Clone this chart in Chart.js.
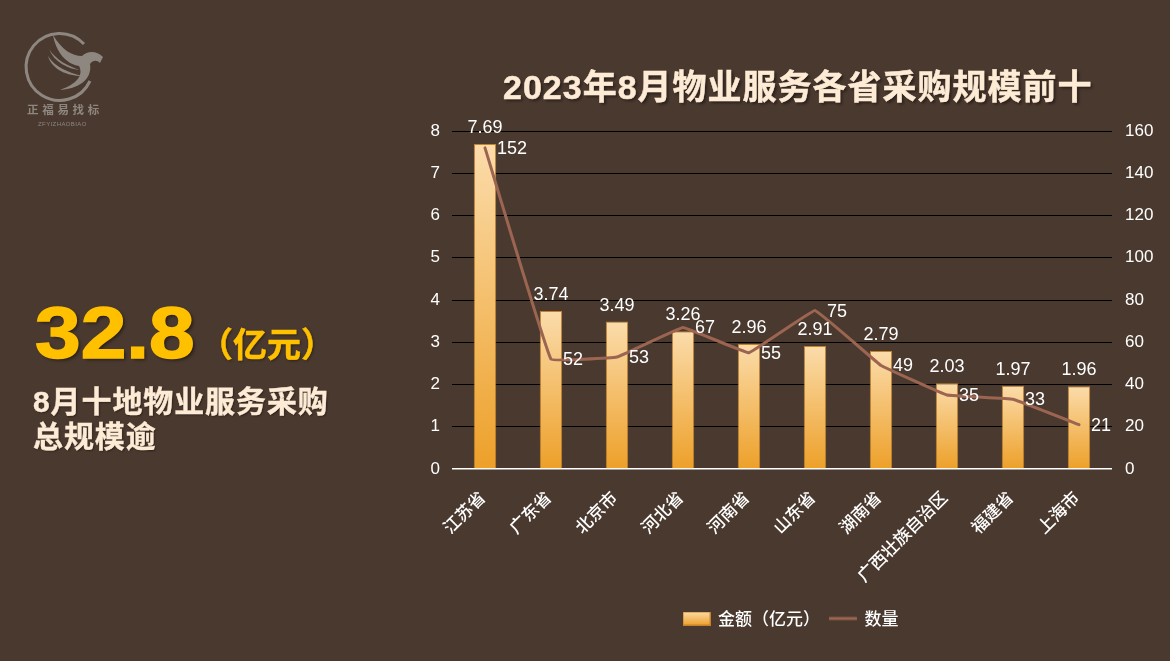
<!DOCTYPE html>
<html lang="zh">
<head>
<meta charset="utf-8">
<title>2023年8月物业服务各省采购规模前十</title>
<script src="https://cdn.jsdelivr.net/npm/chart.js@4"></script>
<style>
  html, body { margin: 0; padding: 0; background: #4a392f; }
  #wrap { position: relative; width: 1170px; height: 661px; overflow: hidden; font-family: "Liberation Sans", "Noto Sans CJK SC", sans-serif; }
  #chart { position: absolute; left: 0; top: 0; }
  .txt { position: absolute; white-space: nowrap; font-weight: bold; }
  #title { left: 503px; top: 66px; font-size: 34px; line-height: 42px; letter-spacing: 1px; color: #fdebd5; -webkit-text-stroke: 0.5px #fdebd5; text-shadow: 2px 2px 3px rgba(0,0,0,.45); }
  #total { left: 35px; top: 288px; font-size: 72px; line-height: 90px; color: #ffc000; -webkit-text-stroke: 1.5px #ffc000; transform: scaleX(1.14); transform-origin: left center; text-shadow: 2px 2px 3px rgba(0,0,0,.45); }
  #unit { left: 199px; top: 321px; font-size: 34px; line-height: 48px; color: #ffc000; -webkit-text-stroke: 0.5px #ffc000; text-shadow: 1px 1px 3px rgba(0,0,0,.45); }
  #sub { left: 33px; top: 384px; font-size: 30px; line-height: 35px; letter-spacing: 0.9px; color: #fdebd5; -webkit-text-stroke: 0.4px #fdebd5; text-shadow: 1px 1px 2px rgba(0,0,0,.45); }
  #logo { position: absolute; left: 0; top: 0; }
</style>
</head>
<body>
<div id="wrap">
  <canvas id="chart" width="1170" height="661"></canvas>
  <svg id="logo" width="130" height="135" viewBox="0 0 130 135">
    <path d="M84 44 A33.5 33.5 0 1 0 90 81" fill="none" stroke="#8e8780" stroke-width="3"/>
    <path d="M53 35 C62 50 72 56 82 56 C88 50 97 51 103 57 L100 63 C97 60 93 60 90 64 C92 76 84 88 60 90 C76 84 84 76 79 66 C66 64 56 52 53 35Z" fill="#8e8780"/>
    <path d="M49 49 C56 60 68 66 80 70 C68 69 54 62 49 49Z M48 56 C56 68 68 72 82 76 C68 76 52 70 48 56Z" fill="#8e8780"/>
    <text x="27" y="114" font-family="Noto Sans CJK SC" font-weight="bold" font-size="11.5" letter-spacing="3.7" fill="#8e8780">正福易找标</text>
    <text x="38" y="126" font-family="Liberation Sans" font-size="6" letter-spacing="0.4" fill="#8e8780">ZFYIZHAOBIAO</text>
  </svg>
  <div class="txt" id="title">2023年8月物业服务各省采购规模前十</div>
  <div class="txt" id="total">32.8</div>
  <div class="txt" id="unit">（亿元）</div>
  <div class="txt" id="sub">8月十地物业服务采购<br>总规模逾</div>
</div>
<script>
//! Data

const provinces = ["江苏省", "广东省", "北京市", "河北省", "河南省", "山东省", "湖南省", "广西壮族自治区", "福建省", "上海市"];
const amounts = [7.69, 3.74, 3.49, 3.26, 2.96, 2.91, 2.79, 2.03, 1.97, 1.96];
const counts = [152, 52, 53, 67, 55, 75, 49, 35, 33, 21];

const white = "#ffffff";
const lineColor = "#9c6552";
const numberFont = '18px "Liberation Sans"';

//! Legend swatches

function makeSwatch(draw) {
  const c = document.createElement("canvas");
  c.width = 28;
  c.height = 14;
  draw(c.getContext("2d"));
  return c;
}

const barSwatch = makeSwatch((ctx) => {
  const g = ctx.createLinearGradient(0, 0, 0, 14);
  g.addColorStop(0, "#fbdcab");
  g.addColorStop(1, "#eda029");
  ctx.fillStyle = g;
  ctx.fillRect(0.5, 0.5, 27, 13);
  ctx.strokeStyle = "#c5822a";
  ctx.strokeRect(0.5, 0.5, 27, 13);
});

const lineSwatch = makeSwatch((ctx) => {
  ctx.strokeStyle = lineColor;
  ctx.lineWidth = 3;
  ctx.lineCap = "round";
  ctx.beginPath();
  ctx.moveTo(1, 7);
  ctx.lineTo(27, 7);
  ctx.stroke();
});

//! Value labels, bar values above the bar and line values right of the point

const valueLabels = {
  id: "valueLabels",
  afterDatasetsDraw(chart) {
    const { ctx } = chart;
    ctx.save();
    ctx.font = numberFont;
    ctx.fillStyle = white;
    ctx.textBaseline = "middle";
    chart.getDatasetMeta(0).data.forEach((bar, i) => {
      ctx.textAlign = "center";
      ctx.fillText(amounts[i].toFixed(2), bar.x, bar.y - 16);
    });
    chart.getDatasetMeta(1).data.forEach((point, i) => {
      ctx.textAlign = "left";
      ctx.fillText(String(counts[i]), point.x + 12, point.y + 1);
    });
    ctx.restore();
  },
};

//! Chart JS

new Chart(document.getElementById("chart"), {
  type: "bar",
  data: {
    labels: provinces,
    datasets: [
      {
        label: "金额（亿元）",
        data: amounts,
        yAxisID: "y",
        order: 2,
        barPercentage: 0.34,
        categoryPercentage: 1,
        borderWidth: 1,
        borderColor: "#c5822a",
        backgroundColor: (context) => {
          const { chart, parsed } = context;
          if (!chart.chartArea || !parsed) return "#f4bf70";
          const y = chart.scales.y;
          const g = chart.ctx.createLinearGradient(0, y.getPixelForValue(parsed.y), 0, y.getPixelForValue(0));
          g.addColorStop(0, "#fbdcab");
          g.addColorStop(1, "#eda029");
          return g;
        },
      },
      {
        type: "line",
        label: "数量",
        data: counts,
        yAxisID: "y1",
        order: 1,
        borderColor: lineColor,
        borderWidth: 3,
        tension: 0.05,
        pointRadius: 0,
        borderCapStyle: "round",
      },
    ],
  },
  options: {
    responsive: false,
    animation: false,
    layout: { padding: { left: 412, top: 131, right: 0, bottom: 24 } },
    plugins: {
      title: { display: false },
      tooltip: { enabled: false },
      legend: {
        position: "bottom",
        labels: {
          color: white,
          usePointStyle: true,
          pointStyleWidth: 26,
          boxHeight: 14,
          padding: 10,
          font: { size: 17, family: '"Noto Sans CJK SC"', weight: 500 },
          sort: (a, b) => a.datasetIndex - b.datasetIndex,
          generateLabels(chart) {
            const items = Chart.defaults.plugins.legend.labels.generateLabels(chart);
            items.forEach((item) => {
              item.pointStyle = item.datasetIndex === 0 ? barSwatch : lineSwatch;
            });
            return items;
          },
        },
      },
    },
    scales: {
      x: {
        grid: { display: false },
        border: { display: false },
        afterFit: (scale) => { scale.height = 131; },
        ticks: {
          color: white,
          minRotation: 45,
          maxRotation: 45,
          autoSkip: false,
          padding: 10,
          labelOffset: -3,
          font: { size: 17, family: '"Noto Sans CJK SC"', weight: 500 },
        },
      },
      y: {
        position: "left",
        min: 0,
        max: 8,
        border: { display: false },
        afterFit: (scale) => { scale.width = 40; },
        grid: {
          drawTicks: false,
          color: (c) => (c.tick.value === 0 ? white : "#000000"),
          lineWidth: (c) => (c.tick.value === 0 ? 1.5 : 1),
        },
        ticks: { stepSize: 1, color: white, padding: 12, font: { size: 17, family: '"Liberation Sans"' } },
      },
      y1: {
        position: "right",
        min: 0,
        max: 160,
        border: { display: false },
        afterFit: (scale) => { scale.width = 58; },
        grid: { display: false, drawTicks: false },
        ticks: { stepSize: 20, color: white, padding: 13, font: { size: 17, family: '"Liberation Sans"' } },
      },
    },
  },
  plugins: [valueLabels],
});
</script>
</body>
</html>
